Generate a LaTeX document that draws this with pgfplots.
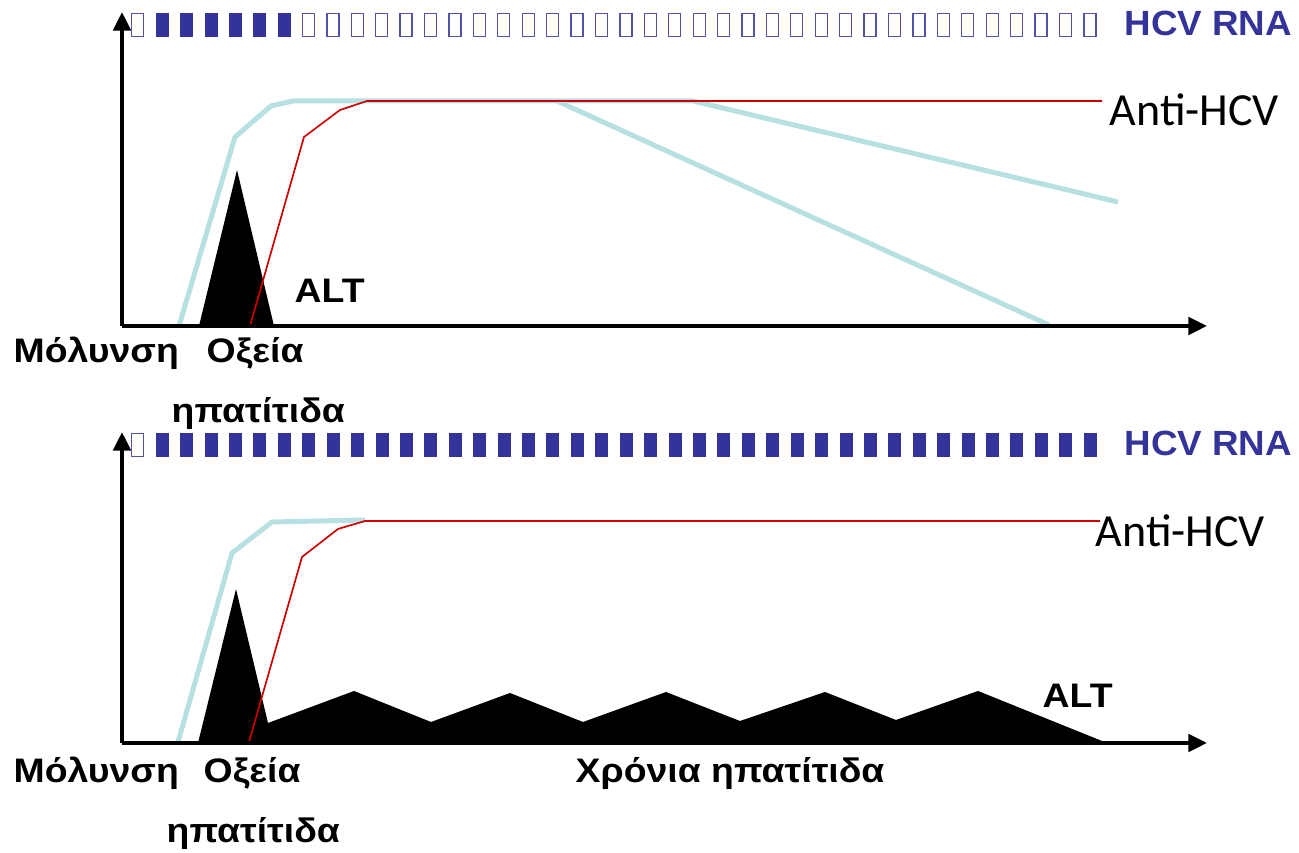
\documentclass[border=0pt]{standalone}
\usepackage{fontspec}
\setmainfont{Liberation Sans}
\newfontfamily\calib{Carlito}
\newfontfamily\widesans{Liberation Sans}[FakeStretch=1.1]
\newfontfamily\rnasans{Liberation Sans}[FakeStretch=1.05]
\usepackage{pgfplots}
\pgfplotsset{compat=1.18}
\usetikzlibrary{arrows.meta}
\definecolor{rnablue}{RGB}{51,51,153}
\definecolor{hcvcyan}{RGB}{183,224,227}
\definecolor{abred}{RGB}{204,0,0}
\pgfdeclareplotmark{rnabox}{\pgfpathrectangle{\pgfpoint{-1.8pt}{-3.5pt}}{\pgfpoint{3.6pt}{7pt}}\pgfusepathqfillstroke}
\pgfplotsset{panel/.style={x=0.3pt,y=0.3pt,xmin=122,xmax=1207,
  axis lines=left,
  axis line style={line width=1.2pt,-{Triangle[length=5.6pt,width=5.2pt]}},
  xtick=\empty,ytick=\empty,clip=false,anchor=south west,axis on top}}
\newcommand\lab{\widesans\fontsize{10.2pt}{12pt}\selectfont\bfseries}
\newcommand\rna{\rnasans\fontsize{10.5pt}{12pt}\selectfont\bfseries\color{rnablue}}
\newcommand\anti{\calib\fontsize{13.8pt}{16pt}\selectfont}
\begin{document}
\begin{tikzpicture}
\useasboundingbox (0,0) rectangle (389.7pt,255.9pt);
% ---------------- top panel ----------------
\begin{axis}[panel,at={(36.6pt,158.1pt)},ymin=527,ymax=841]
\addplot[fill=black,draw=none] coordinates {(199,527) (237,683) (274,527)} -- cycle;
\addplot[hcvcyan,line width=1.5pt,line join=round] coordinates {(179,527) (235,716) (271,747) (293,752) (693,752) (1118,651)};
\addplot[hcvcyan,line width=1.5pt] coordinates {(557,752) (1049,528)};
\addplot[abred,line width=0.5pt] coordinates {(250,527) (304,716) (340,743) (367,752) (1102,752)};
\addplot[only marks,mark=rnabox,mark options={draw=rnablue!85,fill=white,line width=0.4pt}] coordinates {
(137.5,828) (308.4,828) (332.9,828) (357.3,828) (381.7,828) (406.1,828) (430.5,828) (455.0,828) (479.4,828) (503.8,828)
(528.2,828) (552.6,828) (577.1,828) (601.5,828) (625.9,828) (650.3,828) (674.7,828) (699.2,828) (723.6,828) (748.0,828)
(772.4,828) (796.8,828) (821.3,828) (845.7,828) (870.1,828) (894.5,828) (918.9,828) (943.4,828) (967.8,828) (992.2,828)
(1016.6,828) (1041.0,828) (1065.5,828) (1089.9,828)};
\addplot[only marks,mark=rnabox,mark options={draw=rnablue,fill=rnablue,line width=0.1pt}] coordinates {
(161.9,828) (186.3,828) (210.8,828) (235.2,828) (259.6,828) (284.0,828)};
\node[anchor=base west,inner sep=0pt,font=\lab] at (axis cs:13,490) {Μόλυνση};
\node[anchor=base west,inner sep=0pt,font=\lab] at (axis cs:206,490) {Οξεία};
\node[anchor=base west,inner sep=0pt,font=\lab] at (axis cs:171,430) {ηπατίτιδα};
\node[anchor=base west,inner sep=0pt,font=\lab] at (axis cs:294,550) {ALT};
\node[anchor=base west,inner sep=0pt,font=\rna] at (axis cs:1124,817) {HCV RNA};
\node[anchor=base west,inner sep=0pt,font=\anti] at (axis cs:1109,727) {Anti-HCV};
\end{axis}
% ---------------- bottom panel ----------------
\begin{axis}[panel,at={(36.6pt,33pt)},ymin=110,ymax=421]
\addplot[fill=black,draw=none] coordinates {(198,110) (236,264) (268,130) (354,162) (431,131) (510,160) (583,131) (666,161) (740,132) (825,161) (896,133) (978,162) (1107,110)} -- cycle;
\addplot[hcvcyan,line width=1.5pt,line join=round] coordinates {(178,111) (232,300) (272,331) (365,333)};
\addplot[abred,line width=0.5pt] coordinates {(249,111) (302,296) (338,324) (365,332) (1100,332)};
\addplot[only marks,mark=rnabox,mark options={draw=rnablue!85,fill=white,line width=0.4pt}] coordinates {(137.5,408)};
\addplot[only marks,mark=rnabox,mark options={draw=rnablue,fill=rnablue,line width=0.1pt}] coordinates {
(161.9,408) (186.3,408) (210.8,408) (235.2,408) (259.6,408) (284.0,408)
(308.4,408) (332.9,408) (357.3,408) (381.7,408) (406.1,408) (430.5,408) (455.0,408) (479.4,408) (503.8,408)
(528.2,408) (552.6,408) (577.1,408) (601.5,408) (625.9,408) (650.3,408) (674.7,408) (699.2,408) (723.6,408) (748.0,408)
(772.4,408) (796.8,408) (821.3,408) (845.7,408) (870.1,408) (894.5,408) (918.9,408) (943.4,408) (967.8,408) (992.2,408)
(1016.6,408) (1041.0,408) (1065.5,408) (1089.9,408)};
\node[anchor=base west,inner sep=0pt,font=\lab] at (axis cs:13,70) {Μόλυνση};
\node[anchor=base west,inner sep=0pt,font=\lab] at (axis cs:203,70) {Οξεία};
\node[anchor=base west,inner sep=0pt,font=\lab] at (axis cs:575,70) {Χρόνια ηπατίτιδα};
\node[anchor=base west,inner sep=0pt,font=\lab] at (axis cs:166,10) {ηπατίτιδα};
\node[anchor=base west,inner sep=0pt,font=\lab] at (axis cs:1042,145) {ALT};
\node[anchor=base west,inner sep=0pt,font=\rna] at (axis cs:1124,397) {HCV RNA};
\node[anchor=base west,inner sep=0pt,font=\anti] at (axis cs:1095,306) {Anti-HCV};
\end{axis}
\end{tikzpicture}
\end{document}
